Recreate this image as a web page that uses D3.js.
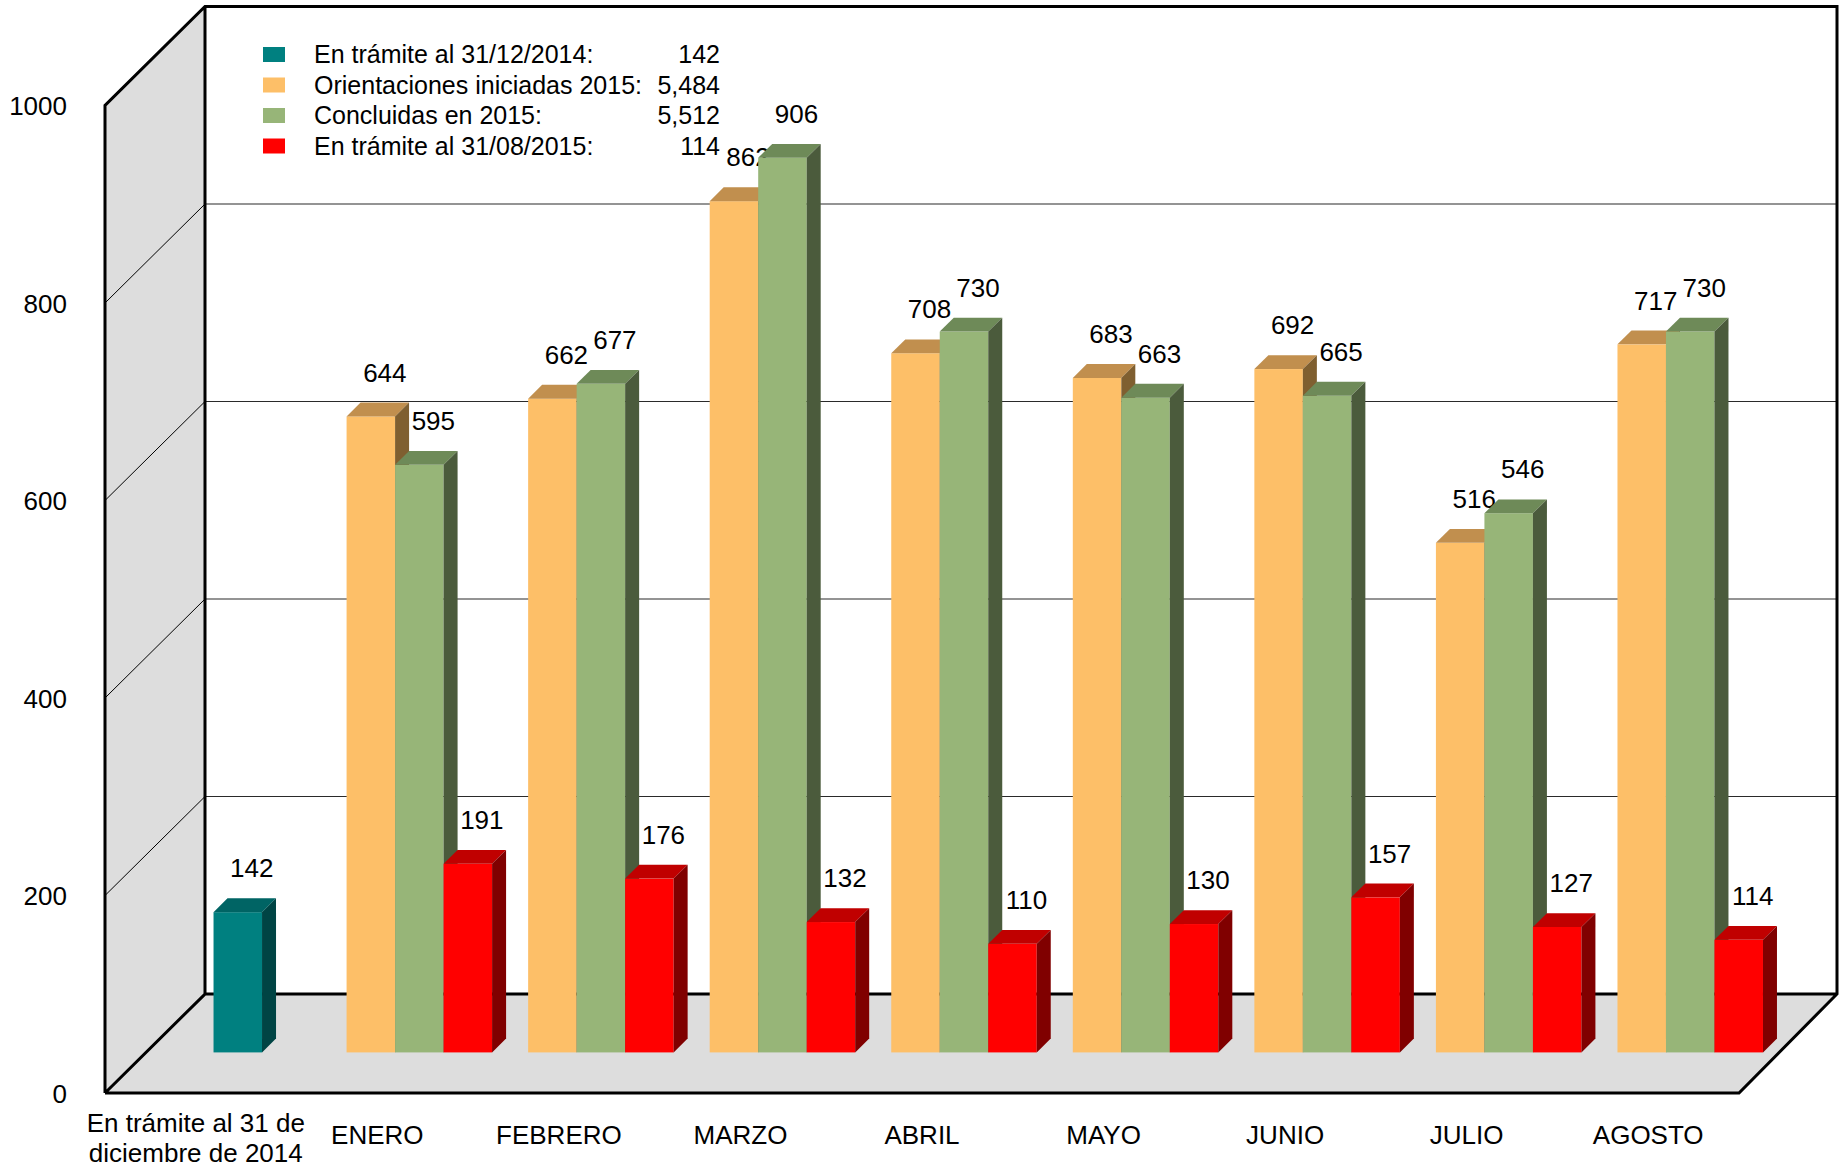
<!DOCTYPE html>
<html>
<head>
<meta charset="utf-8">
<script src="https://cdn.jsdelivr.net/npm/d3@7"></script>
<style>
body { margin: 0; background: #fff; }
text { font-family: "Liberation Sans", Arial, sans-serif; fill: #000; }
</style>
</head>
<body>
<div id="chart"></div>
<script>
// data
const categories = ["En trámite al 31 de\ndiciembre de 2014", "ENERO", "FEBRERO", "MARZO", "ABRIL", "MAYO", "JUNIO", "JULIO", "AGOSTO"];
const tramite2014 = [142, null, null, null, null, null, null, null, null];
const orientaciones = [null, 644, 662, 862, 708, 683, 692, 516, 717];
const concluidas = [null, 595, 677, 906, 730, 663, 665, 546, 730];
const tramite2015 = [null, 191, 176, 132, 110, 130, 157, 127, 114];
const seriesNames = ["En trámite al 31/12/2014:", "Orientaciones iniciadas 2015:", "Concluidas en 2015:", "En trámite al 31/08/2015:"];
const yTicks = [0, 200, 400, 600, 800, 1000];

// colours: front, top, side
const palette = [
    { front: "#008080", top: "#006464", side: "#004444" },
    { front: "#FDBF68", top: "#C18F4E", side: "#7F5F30" },
    { front: "#97B578", top: "#6E8A58", side: "#4B5B3C" },
    { front: "#FF0000", top: "#C00000", side: "#800000" }
];

const width = 1839, height = 1169;
const DX = 100, DY = 99;          // depth of the box
const zFront = 0.41, zBack = 0.55; // where the bars sit in depth
const barW = 48.5;

const svg = d3.select("#chart").append("svg")
    .attr("width", width)
    .attr("height", height);

const x = d3.scaleBand().domain(categories).range([106, 1740]).padding(0);
const y = d3.scaleLinear().domain([0, 1000]).range([1093, 105.5]);

// project a front-plane point back into depth z (0..1)
const P = (px, py, z) => [px + z * DX, py - z * DY];

// box corners
const bx0 = 105, bx1 = 1739, bxBack = 1837;
const y0 = y(0), yTop = y(1000);
const backL = P(bx0, yTop, 1), backLB = P(bx0, y0, 1);
const backR = [bxBack, yTop - DY], backRB = [bxBack, y0 - DY];

svg.append("polygon")
    .attr("points", [[bx0, y0], [bx0, yTop], backL, backLB].join(" "))
    .attr("fill", "#DDDDDD");
svg.append("polygon")
    .attr("points", [[bx0, y0], [bx1, y0], backRB, backLB].join(" "))
    .attr("fill", "#DDDDDD");

// gridlines
yTicks.filter(v => v > 0 && v < 1000).forEach(v => {
    const a = P(bx0, y(v), 1);
    svg.append("line")
        .attr("x1", a[0]).attr("y1", a[1]).attr("x2", bxBack).attr("y2", a[1])
        .attr("stroke", "#2a2a2a").attr("stroke-width", 1.2);
    svg.append("line")
        .attr("x1", bx0).attr("y1", y(v)).attr("x2", a[0]).attr("y2", a[1])
        .attr("stroke", "#000").attr("stroke-width", 1);
});

// box outline
const outline = d3.path();
outline.moveTo(bx0, y0); outline.lineTo(bx0, yTop);
outline.lineTo(...backL); outline.lineTo(...backR);
outline.lineTo(...backRB); outline.lineTo(bx1, y0); outline.lineTo(bx0, y0);
outline.moveTo(...backL); outline.lineTo(...backLB); outline.lineTo(bx0, y0);
outline.moveTo(...backLB); outline.lineTo(...backRB);
svg.append("path")
    .attr("d", outline.toString())
    .attr("fill", "none")
    .attr("stroke", "#000")
    .attr("stroke-width", 3)
    .attr("stroke-linejoin", "miter");

// y axis
const yAxis = svg.append("g")
    .attr("transform", "translate(67,0)")
    .call(d3.axisLeft(y).tickValues(yTicks).tickSize(0).tickPadding(0).tickFormat(d3.format("d")));
yAxis.select(".domain").remove();
yAxis.selectAll("text")
    .attr("dy", "0.35em")
    .style("font-size", "26px")
    .style("font-family", "'Liberation Sans', Arial, sans-serif")
    .attr("fill", "#000");

// x axis
const xAxis = svg.append("g")
    .attr("transform", `translate(-1,${y0})`)
    .call(d3.axisBottom(x).tickSize(0).tickPadding(0));
xAxis.select(".domain").remove();
xAxis.selectAll(".tick text").each(function (d) {
    const t = d3.select(this);
    const lines = d.split("\n");
    t.text(null)
        .attr("y", 0)
        .attr("dy", null)
        .style("font-size", "26px")
        .style("font-family", "'Liberation Sans', Arial, sans-serif")
        .attr("fill", "#000");
    lines.forEach((ln, i) => {
        t.append("tspan")
            .attr("x", 0)
            .attr("y", (lines.length > 1 ? 45 : 42) + (i - (lines.length - 1) / 2) * 30)
            .attr("dy", "0.35em")
            .text(ln);
    });
});

// bars
const allSeries = [tramite2014, orientaciones, concluidas, tramite2015];
const barsLayer = svg.append("g");

categories.forEach((cat, ci) => {
    const present = allSeries.map((s, si) => ({ si, v: s[ci] })).filter(d => d.v != null);
    const groupW = present.length * barW;
    const start = x(cat) + x.bandwidth() / 2 - groupW / 2;
    present.forEach((d, k) => {
        const c = palette[d.si];
        const fx = start + k * barW;
        const fl = P(fx, y(d.v), zFront);       // front top-left
        const fb = P(fx, y(0), zFront);         // front bottom-left
        const bt = P(fx, y(d.v), zBack);        // back top-left
        const bb = P(fx, y(0), zBack);
        const g = barsLayer.append("g");
        g.append("rect")
            .attr("x", fl[0]).attr("y", fl[1])
            .attr("width", barW).attr("height", fb[1] - fl[1])
            .attr("fill", c.front);
        g.append("polygon")
            .attr("points", [fl, [fl[0] + barW, fl[1]], [bt[0] + barW, bt[1]], bt].join(" "))
            .attr("fill", c.top);
        g.append("polygon")
            .attr("points", [[fl[0] + barW, fl[1]], [bt[0] + barW, bt[1]], [bb[0] + barW, bb[1]], [fb[0] + barW, fb[1]]].join(" "))
            .attr("fill", c.side);
        g.append("text")
            .attr("x", bt[0] + barW / 2)
            .attr("y", bt[1] - 21)
            .attr("text-anchor", "middle")
            .style("font-size", "26px")
            .text(d.v);
    });
});

// legend
const legendTotals = [
    d3.sum(tramite2014),
    d3.sum(orientaciones),
    d3.sum(concluidas),
    tramite2015[tramite2015.length - 1]
];
const legend = svg.append("g");
seriesNames.forEach((name, i) => {
    const cy = 54.5 + i * 30.5;
    legend.append("rect")
        .attr("x", 263).attr("y", cy - 7.5)
        .attr("width", 22).attr("height", 15)
        .attr("fill", palette[i].front);
    legend.append("text")
        .attr("x", 314).attr("y", cy).attr("dy", "0.35em")
        .style("font-size", "25px")
        .text(name);
    legend.append("text")
        .attr("x", 720).attr("y", cy).attr("dy", "0.35em")
        .attr("text-anchor", "end")
        .style("font-size", "25px")
        .text(d3.format(",")(legendTotals[i]));
});
</script>
</body>
</html>
